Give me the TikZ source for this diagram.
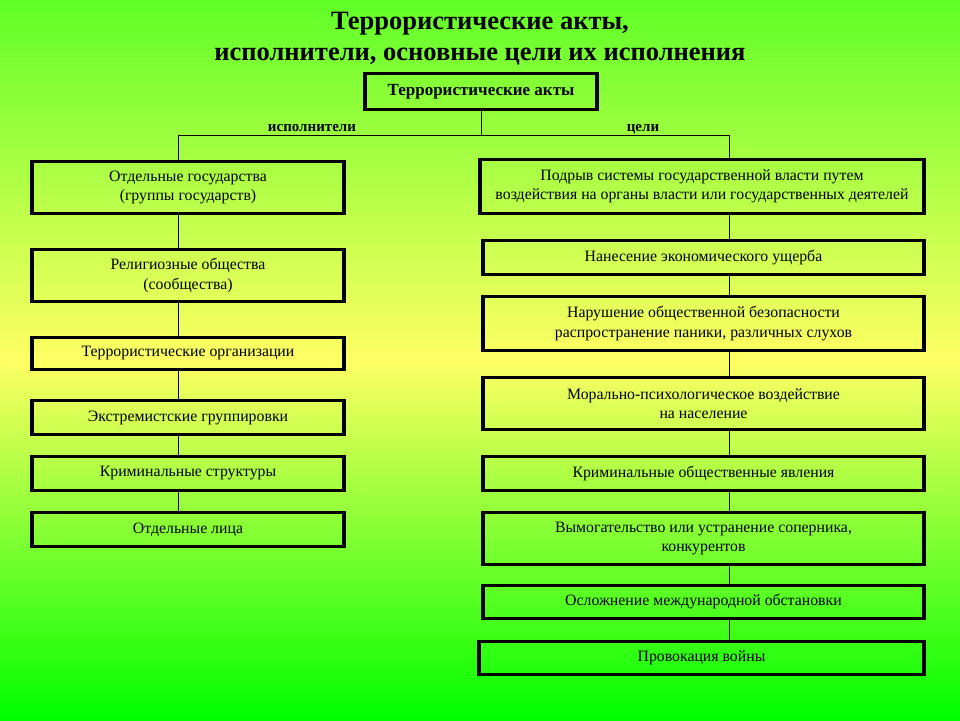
\documentclass[tikz,border=0pt]{standalone}
\usepackage{fontspec}
\setmainfont{Liberation Serif}
\begin{document}
\begin{tikzpicture}[x=1pt,y=-1pt,
 bx/.style={draw=black,line width=3.5pt,align=center,font=\fontsize{15.8}{19.5}\selectfont,inner sep=0pt},
 conn/.style={draw=black,line width=0.8pt},
 lbl/.style={font=\bfseries\fontsize{15}{16}\selectfont,anchor=base}]
\shade[top color={rgb,255:red,96;green,255;blue,40},bottom color={rgb,255:red,255;green,255;blue,100}] (0,0) rectangle (960,360);
\shade[top color={rgb,255:red,255;green,255;blue,100},bottom color={rgb,255:red,0;green,255;blue,0}] (0,360) rectangle (960,720);
\useasboundingbox (0,0) rectangle (960,720);
\node[font=\bfseries\fontsize{26.5}{31}\selectfont,align=center] (title) at (480,39) {Террористические акты,\\исполнители, основные цели их исполнения};
\newcommand{\mkbox}[6]{\node[bx,minimum width=#4-#2,minimum height=#5-#3] (#1) at ({(#2+#4)/2},{(#3+#5)/2+1.5}) {#6};}
\mkbox{top}{365}{72}{597}{108}{\bfseries\fontsize{17}{20}\selectfont Террористические акты}
\mkbox{l1}{32}{160}{344}{212}{Отдельные государства\\(группы государств)}
\mkbox{l2}{32}{248}{344}{300}{Религиозные общества\\(сообщества)}
\mkbox{l3}{32}{336}{344}{368}{Террористические организации}
\mkbox{l4}{32}{399}{344}{433}{Экстремистские группировки}
\mkbox{l5}{32}{455}{344}{489}{Криминальные структуры}
\mkbox{l6}{32}{511}{344}{545}{Отдельные лица}
\mkbox{r1}{480}{158}{924}{212}{Подрыв системы государственной власти путем\\воздействия на органы власти или государственных деятелей}
\mkbox{r2}{483}{239}{924}{273}{Нанесение экономического ущерба}
\mkbox{r3}{483}{295}{924}{349}{Нарушение общественной безопасности\\распространение паники, различных слухов}
\mkbox{r4}{483}{376}{924}{428}{Морально-психологическое воздействие\\на население}
\mkbox{r5}{483}{455}{924}{489}{Криминальные общественные явления}
\mkbox{r6}{483}{511}{924}{563}{Вымогательство или устранение соперника,\\конкурентов}
\mkbox{r7}{483}{584}{924}{617}{Осложнение международной обстановки}
\mkbox{r8}{479}{640}{924}{673}{Провокация войны}
\coordinate (j) at (481,135);
\coordinate (jl) at (178,135);
\coordinate (jr) at (729,135);
\draw[conn] (top.south) -- (j);
\draw[conn] (jl) -- (jr);
\draw[conn] (jl) -- (jl|-l1.north);
\draw[conn] (jr) -- (jr|-r1.north);
\node[lbl] (lex) at (312,131) {исполнители};
\node[lbl] (lgo) at (643,131) {цели};
\foreach \a/\b in {l1/l2,l2/l3,l3/l4,l4/l5,l5/l6}{\draw[conn] (jl|-\a.south) -- (jl|-\b.north);}
\foreach \a/\b in {r1/r2,r2/r3,r3/r4,r4/r5,r5/r6,r6/r7,r7/r8}{\draw[conn] (jr|-\a.south) -- (jr|-\b.north);}
\end{tikzpicture}
\end{document}
